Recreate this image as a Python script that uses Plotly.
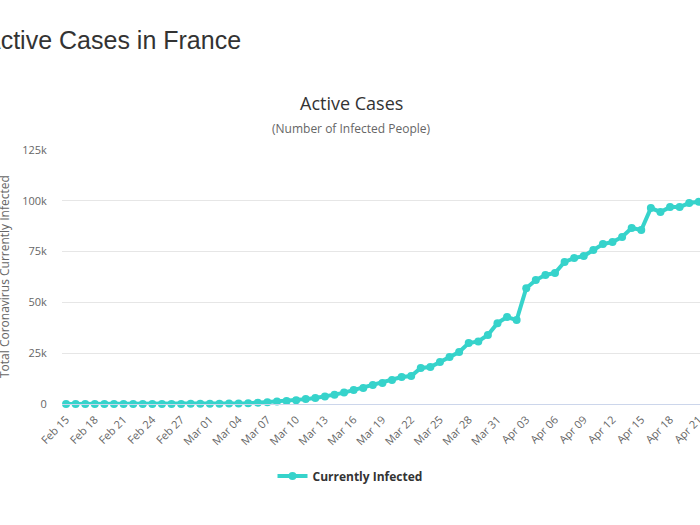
import plotly.graph_objects as go
import pandas as pd

# Active cases (Currently Infected), daily from Feb 15, 2020
feb_values = [7, 7, 7, 7, 7, 7, 7, 7, 7, 7, 6, 20, 40, 85, 100]
mar_early_values = [115, 170, 190, 260, 390, 610, 900, 1200, 1500, 1900,
                    2400, 3000, 3700, 4600, 5600]
later_values = [6900, 7900, 9300, 10300, 11800, 13300, 13800, 17700, 18200,
                20700, 23100, 25600, 30000, 30800, 34000, 39800, 42800, 41300,
                57000, 61000, 63500, 64500, 69900, 71800, 72800, 75800, 78700,
                79700, 82200, 86600, 85600, 96400, 94500, 96900, 96900, 98900,
                99500]
active = feb_values + mar_early_values + later_values
start_date = "2020-02-15"
dates = pd.date_range(start_date, periods=len(active), freq="D")

series_name = "Currently Infected"
page_title = "Active Cases in France"
chart_title = "Active Cases"
chart_subtitle = "(Number of Infected People)"
y_title = "Total Coronavirus Currently Infected"
y_ticks = [0, 25000, 50000, 75000, 100000, 125000]
y_tick_labels = ["0", "25k", "50k", "75k", "100k", "125k"]

color = "#36d3cb"
font = "Open Sans"

fig = go.Figure()
fig.add_trace(go.Scatter(
    x=dates, y=active, mode="lines+markers", name=series_name,
    line=dict(color=color, width=4),
    marker=dict(color=color, size=8),
    cliponaxis=False,
))

L, R, T, B = 62, 0, 150, 121
W, H = 700, 525
pw = W - L - R
ph = H - T - B

def px(x):
    return (x - L) / pw

def py(y):
    return (H - B - y) / ph

fig.update_layout(
    width=W, height=H,
    margin=dict(l=L, r=R, t=T, b=B, autoexpand=False),
    paper_bgcolor="white", plot_bgcolor="white",
    font=dict(family=font, color="#666666"),
    showlegend=True,
    legend=dict(orientation="h", xref="container", yref="container",
                x=0.5, xanchor="center", y=1 - 476 / H, yanchor="middle",
                font=dict(size=12, color="#333333", family=font, weight="bold"),
                itemwidth=30),
    xaxis=dict(
        type="date", automargin=False,
        range=["2020-02-14 13:50", "2020-04-21 03:00"],
        tick0=start_date, dtick=3 * 86400000, tickformat="%b %d",
        tickangle=-45, tickfont=dict(size=11, color="#666666"),
        ticklabeloverflow="allow",
        showgrid=False, showline=True, linecolor="#ccd6eb", linewidth=1,
        ticks="outside", ticklen=4, tickcolor="rgba(0,0,0,0)",
        zeroline=False,
    ),
    yaxis=dict(
        automargin=False,
        range=[0, 125000], tickvals=y_ticks, ticktext=y_tick_labels,
        tickfont=dict(size=11, color="#666666"),
        showgrid=True, gridcolor="#e6e6e6", gridwidth=1,
        zeroline=False, showline=False,
        ticks="outside", ticklen=12, tickcolor="rgba(0,0,0,0)",
    ),
    annotations=[
        dict(text=page_title, xref="paper", yref="paper",
             x=px(-18), y=py(40), xanchor="left", yanchor="middle",
             showarrow=False,
             font=dict(family="Liberation Sans", size=25, color="#333333")),
        dict(text=chart_title, xref="paper", yref="paper",
             x=px(351), y=py(103), xanchor="center", yanchor="middle",
             showarrow=False,
             font=dict(family=font, size=18, color="#333333")),
        dict(text=chart_subtitle, xref="paper", yref="paper",
             x=px(351), y=py(129), xanchor="center", yanchor="middle",
             showarrow=False,
             font=dict(family=font, size=12, color="#666666")),
        dict(text=y_title, xref="paper", yref="paper",
             x=px(4), y=py(277), xanchor="center", yanchor="middle",
             textangle=-90, showarrow=False,
             font=dict(family=font, size=12, color="#666666")),
    ],
)

fig.write_html("out.html", config={"displayModeBar": False},
               post_script="document.body.style.margin='0px';document.body.style.padding='0px';")
